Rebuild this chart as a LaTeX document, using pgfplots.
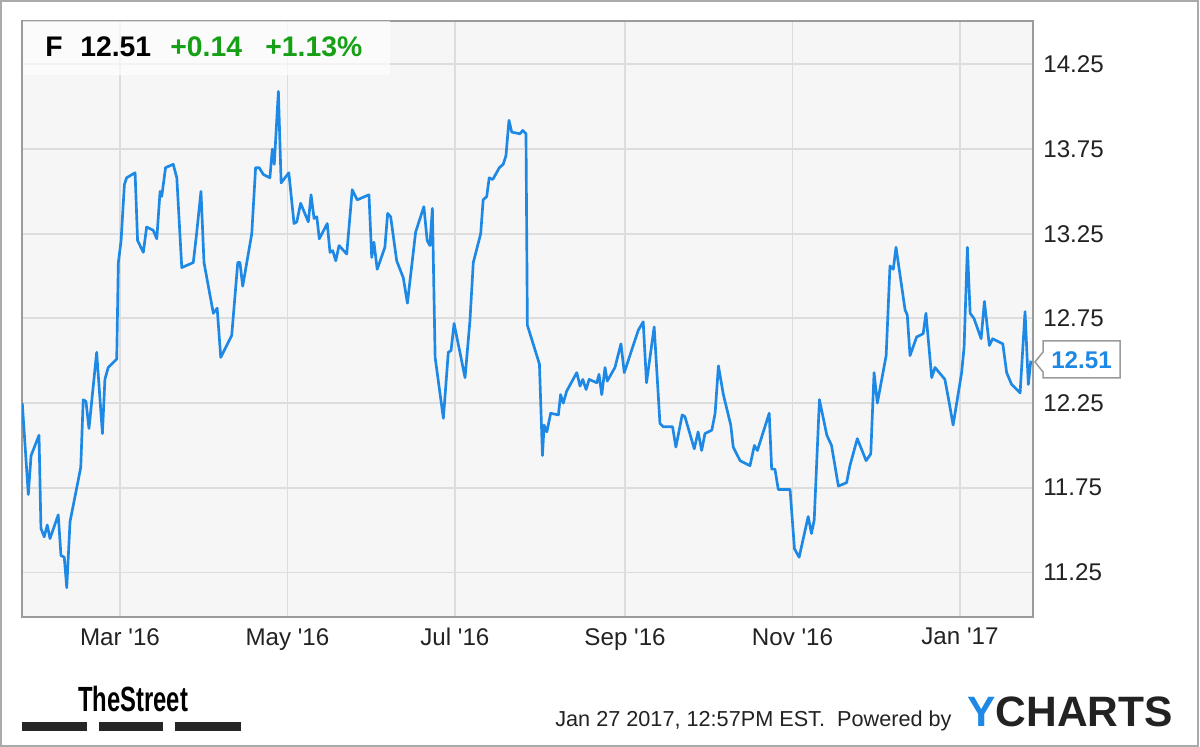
\documentclass[border=0pt]{standalone}
\usepackage{fontspec}
\setmainfont{Liberation Sans}
\usepackage{pgfplots}
\pgfplotsset{compat=1.18}
\definecolor{fline}{RGB}{30,136,229}
\definecolor{upgreen}{RGB}{22,160,22}
\definecolor{plotbg}{RGB}{246,246,246}
\definecolor{gridc}{RGB}{221,221,221}
\definecolor{framec}{RGB}{155,155,155}
\definecolor{txt}{RGB}{34,34,34}
\newcommand{\q}{\textquotesingle}

\begin{document}
\begin{tikzpicture}
% 1 px of the reference = 0.6pt
\begin{scope}[x=0.6pt,y=0.6pt]
\useasboundingbox (0,0) rectangle (1200,747);
\fill[white] (0,0) rectangle (1200,747);
\end{scope}

\begin{axis}[
    at={(13.2pt,78pt)}, anchor=south west,
    scale only axis,
    width=606.6pt, height=357.6pt,
    xmin=24.3, xmax=392.6,
    ymin=10.987, ymax=14.506,
    axis background/.style={fill=plotbg},
    axis line style={framec, line width=1.2pt},
    grid=major,
    grid style={gridc, line width=1.1pt},
    major tick length=0pt,
    xtick={60,121,182,244,305,366},
    xticklabels={Mar \q16,May \q16,Jul \q16,Sep \q16,Nov \q16,Jan \q17},
    ytick={11.25,11.75,12.25,12.75,13.25,13.75,14.25},
    yticklabel pos=right,
    yticklabel style={anchor=west, inner sep=0pt, xshift=6pt, text=txt, font=\fontsize{14.5pt}{16pt}\selectfont},
    xticklabel style={anchor=north, inner sep=0pt, yshift=-6.6pt, text=txt, font=\fontsize{14.5pt}{16pt}\selectfont},
    /pgf/number format/fixed,
    /pgf/number format/fixed zerofill,
    /pgf/number format/precision=2,
    /pgf/number format/assume math mode=true,
    clip=true,
]
\addplot[fline, line width=1.6pt, line join=round, mark=none] coordinates {
(24.4,12.25)(26.6,11.71)(27.6,11.94)(30.5,12.06)(31.2,11.51)(32.4,11.46)(33.5,11.53)(34.5,11.45)
(37.5,11.59)(38.5,11.35)(39.7,11.34)(40.6,11.16)(41.8,11.55)(45.7,11.87)(46.6,12.27)(47.6,12.26)
(48.7,12.10)(51.5,12.55)(53.6,12.07)(54.5,12.39)(55.7,12.46)(58.8,12.51)(59.4,13.08)(60.4,13.21)
(61.6,13.54)(62.4,13.58)(65.5,13.61)(66.4,13.21)(68.5,13.14)(69.7,13.29)(72.1,13.27)(73.4,13.22)
(74.6,13.50)(75.2,13.47)(76.6,13.64)(79.4,13.66)(80.7,13.58)(82.5,13.05)(86.7,13.08)(87.9,13.25)
(89.5,13.50)(90.6,13.08)(94.0,12.78)(95.4,12.81)(96.7,12.52)(100.7,12.65)(102.9,13.08)(103.7,13.08)
(104.7,12.94)(108.0,13.25)(109.4,13.64)(110.7,13.64)(112.2,13.60)(114.6,13.58)(115.5,13.75)(116.2,13.66)
(117.7,14.09)(118.7,13.55)(121.5,13.61)(123.4,13.31)(124.4,13.32)(125.8,13.43)(128.6,13.32)(129.6,13.48)
(130.7,13.34)(131.7,13.35)(132.6,13.22)(135.5,13.31)(136.5,13.14)(137.5,13.15)(138.6,13.09)(139.8,13.18)
(142.6,13.13)(144.6,13.51)(146.4,13.45)(150.7,13.48)(151.7,13.11)(152.5,13.20)(153.7,13.04)(156.5,13.17)
(157.5,13.37)(158.6,13.35)(160.8,13.09)(163.2,12.99)(164.7,12.84)(167.7,13.26)(170.7,13.41)(171.9,13.21)
(172.9,13.18)(173.8,13.40)(174.8,12.52)(177.8,12.16)(179.6,12.55)(180.6,12.56)(181.7,12.72)(185.7,12.40)
(187.5,12.74)(188.7,13.08)(191.4,13.25)(192.3,13.45)(193.6,13.47)(194.5,13.58)(195.8,13.57)(198.2,13.64)
(199.6,13.66)(200.6,13.71)(201.7,13.92)(202.7,13.85)(205.7,13.84)(206.7,13.86)(207.9,13.84)(208.4,12.71)
(212.8,12.48)(213.9,11.94)(214.5,12.12)(215.5,12.08)(216.9,12.19)(219.7,12.18)(220.5,12.30)(221.5,12.25)
(222.7,12.32)(226.4,12.43)(227.6,12.35)(228.6,12.39)(229.8,12.33)(230.9,12.39)(233.7,12.37)(234.5,12.42)
(235.5,12.30)(236.7,12.46)(237.5,12.38)(240.3,12.46)(242.5,12.60)(243.7,12.43)(248.8,12.68)(250.6,12.73)
(251.8,12.37)(254.6,12.70)(256.7,12.13)(257.9,12.11)(261.3,12.11)(262.5,11.99)(264.8,12.18)(265.8,12.17)
(269.2,11.98)(270.6,12.08)(271.9,11.97)(273.1,12.07)(275.6,12.09)(276.8,12.19)(278.0,12.47)(279.8,12.30)
(282.5,12.12)(283.4,11.99)(285.9,11.91)(289.5,11.88)(291.1,12.00)(292.2,11.97)(296.5,12.19)(297.4,11.86)
(298.6,11.86)(299.8,11.74)(304.1,11.74)(305.7,11.39)(307.4,11.34)(310.7,11.58)(311.9,11.48)(312.9,11.56)
(314.8,12.27)(317.5,12.06)(319.2,12.00)(321.7,11.76)(324.7,11.78)(325.9,11.88)(328.6,12.04)(331.8,11.91)
(333.5,11.95)(334.7,12.43)(335.9,12.25)(339.1,12.53)(340.5,13.06)(341.7,13.04)(342.7,13.17)(346.0,12.80)
(346.8,12.77)(347.8,12.53)(350.2,12.64)(352.6,12.66)(353.6,12.78)(355.7,12.40)(356.9,12.46)(360.5,12.39)
(362.1,12.25)(363.5,12.12)(366.6,12.43)(367.5,12.58)(368.7,13.17)(369.7,12.78)(371.1,12.75)(373.7,12.63)
(374.9,12.85)(376.7,12.59)(377.9,12.63)(381.6,12.60)(383.0,12.43)(384.8,12.36)(387.9,12.31)(389.7,12.79)
(390.9,12.36)(391.8,12.50)
};
\end{axis}

\begin{scope}[x=0.6pt,y=0.6pt]
% outer frame
\draw[framec!85, line width=1.2pt] (1,1) rectangle (1198,746);
% quote box, top left
\fill[white, opacity=0.65] (23,672) rectangle (390,726);
\node[anchor=base west, inner sep=0pt, font=\bfseries\fontsize{17pt}{20pt}\selectfont] at (45,690) {F};
\node[anchor=base west, inner sep=0pt, font=\bfseries\fontsize{17pt}{20pt}\selectfont] at (80,690) {12.51};
\node[anchor=base west, inner sep=0pt, text=upgreen, font=\bfseries\fontsize{17pt}{20pt}\selectfont] at (170,690) {+0.14};
\node[anchor=base west, inner sep=0pt, text=upgreen, font=\bfseries\fontsize{17pt}{20pt}\selectfont] at (265,690) {+1.13\%};
% last value callout
\draw[framec, line width=0.9pt, fill=white] (1035,385) -- (1043,395) -- (1043,406) -- (1120,406) -- (1120,369) -- (1043,369) -- (1043,375) -- cycle;
\node[anchor=center, inner sep=0pt, text=fline, font=\bfseries\fontsize{14.5pt}{16pt}\selectfont] at (1081.5,387) {12.51};
% footer
\node[anchor=base west, inner sep=0pt, xscale=0.68, font=\bfseries\fontsize{21pt}{24pt}\selectfont] at (78,35) {TheStreet};
\fill[black!85] (22,16) rectangle (87,25);
\fill[black!85] (99,16) rectangle (163,25);
\fill[black!85] (175,16) rectangle (241,25);
\node[anchor=base west, inner sep=0pt, text=txt, font=\fontsize{13pt}{15pt}\selectfont] at (555,20) {Jan 27 2017, 12:57PM EST.\ \ Powered by};
\node[anchor=base west, inner sep=0pt, font=\bfseries\fontsize{25.5pt}{28pt}\selectfont] at (967,20) {\textcolor{fline}{Y}\textcolor{txt}{CHARTS}};
\end{scope}
\end{tikzpicture}
\end{document}
